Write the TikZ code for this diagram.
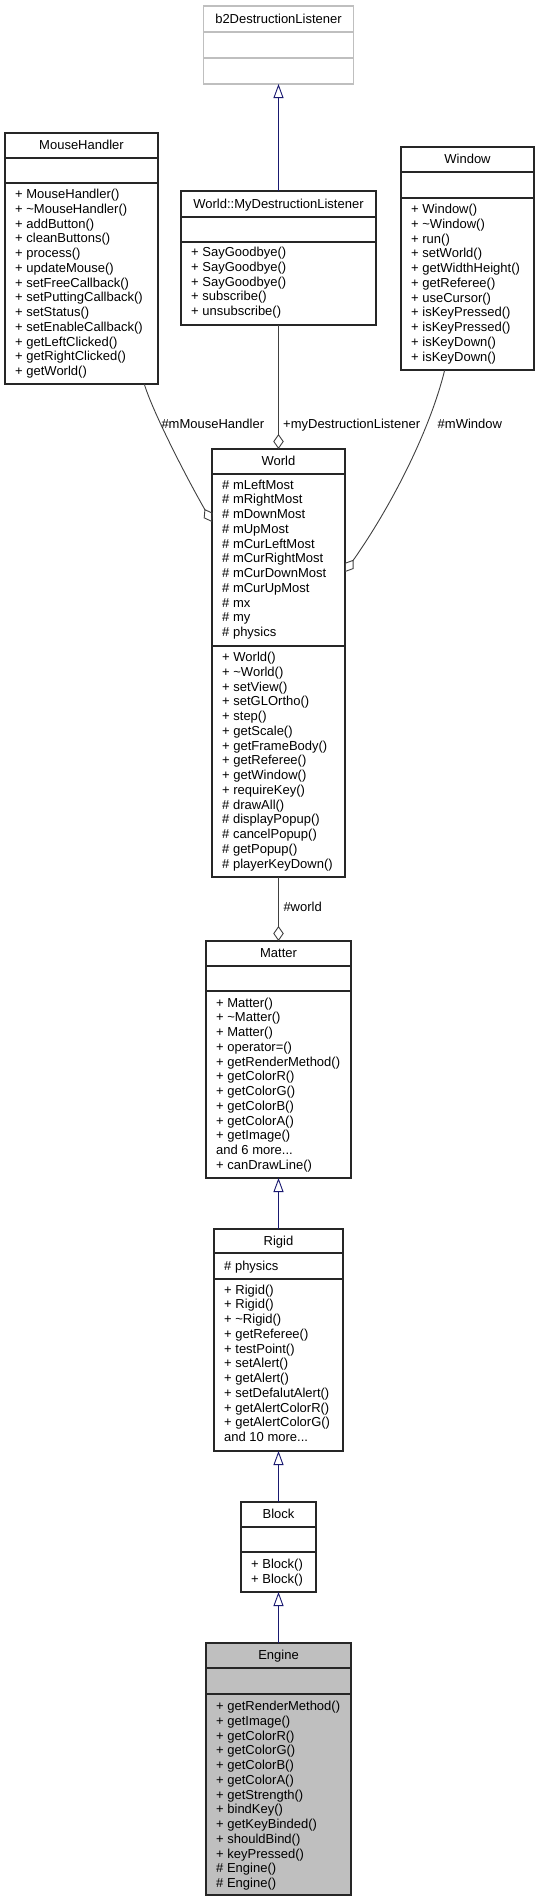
\documentclass[tikz,border=0pt]{standalone}
\usepackage{fontspec}
\setmainfont{Liberation Sans}
\usetikzlibrary{arrows.meta}
\definecolor{edgeblue}{HTML}{191970}
\definecolor{edgegray}{HTML}{404040}

\begin{document}
\begin{tikzpicture}[x=1pt,y=-1pt,
  cls/.style={draw=black!85,line width=1.2pt,inner sep=0pt,outer sep=0pt},
  ext/.style={cls,draw=black!25},
  sep/.style={black!85,line width=1.2pt},
  ttl/.style={anchor=base,inner sep=0pt,font=\fontsize{13}{14.75}\selectfont},
  mem/.style={anchor=base west,align=left,inner sep=0pt,font=\fontsize{13}{14.75}\selectfont},
  lbl/.style={anchor=base west,inner sep=0pt,font=\fontsize{13}{14.75}\selectfont},
  inh/.style={draw=edgeblue,line width=0.9pt,-{Triangle[open,length=14pt,width=10pt]}},
  agg/.style={draw=edgegray,line width=0.9pt,-{Diamond[open,length=15pt,width=10.5pt]}}]
  \useasboundingbox (0,0) rectangle (538,1901);

  % b2DestructionListener
  \node[ext,minimum width=150pt,minimum height=78pt] (b2) at (278.5,45) {};
  \node[ttl] (b2-t) at ([yshift=-17pt]b2.north) {b2DestructionListener};
  \draw[sep,black!25] ([yshift=-26pt]b2.north west) -- ([yshift=-26pt]b2.north east);
  \draw[sep,black!25] ([yshift=-52pt]b2.north west) -- ([yshift=-52pt]b2.north east);

  % MouseHandler
  \node[cls,minimum width=153pt,minimum height=251pt] (mouse) at (81.5,258.5) {};
  \node[ttl] (mouse-t) at ([yshift=-16.5pt]mouse.north) {MouseHandler};
  \draw[sep] ([yshift=-25pt]mouse.north west) -- ([yshift=-25pt]mouse.north east);
  \draw[sep] ([yshift=-50pt]mouse.north west) -- ([yshift=-50pt]mouse.north east);
  % last baseline of each list is the anchor
  \node[mem] (mouse-m) at ([xshift=10pt,yshift=-242.5pt]mouse.north west)
    {+ MouseHandler()\\+ \textasciitilde MouseHandler()\\+ addButton()\\+ cleanButtons()\\
     + process()\\+ updateMouse()\\+ setFreeCallback()\\+ setPuttingCallback()\\
     + setStatus()\\+ setEnableCallback()\\+ getLeftClicked()\\+ getRightClicked()\\
     + getWorld()};

  % World::MyDestructionListener
  \node[cls,minimum width=195pt,minimum height=134pt] (mdl) at (278.5,258) {};
  \node[ttl] (mdl-t) at ([yshift=-17pt]mdl.north) {World::MyDestructionListener};
  \draw[sep] ([yshift=-26pt]mdl.north west) -- ([yshift=-26pt]mdl.north east);
  \draw[sep] ([yshift=-51pt]mdl.north west) -- ([yshift=-51pt]mdl.north east);
  \node[mem] (mdl-m) at ([xshift=10pt,yshift=-124.5pt]mdl.north west)
    {+ SayGoodbye()\\+ SayGoodbye()\\+ SayGoodbye()\\+ subscribe()\\+ unsubscribe()};

  % Window
  \node[cls,minimum width=133pt,minimum height=223pt] (window) at (467.5,258.5) {};
  \node[ttl] (window-t) at ([yshift=-16.5pt]window.north) {Window};
  \draw[sep] ([yshift=-25pt]window.north west) -- ([yshift=-25pt]window.north east);
  \draw[sep] ([yshift=-51pt]window.north west) -- ([yshift=-51pt]window.north east);
  \node[mem] (window-m) at ([xshift=10pt,yshift=-214pt]window.north west)
    {+ Window()\\+ \textasciitilde Window()\\+ run()\\+ setWorld()\\+ getWidthHeight()\\
     + getReferee()\\+ useCursor()\\+ isKeyPressed()\\+ isKeyPressed()\\+ isKeyDown()\\
     + isKeyDown()};

  % World
  \node[cls,minimum width=133pt,minimum height=428pt] (world) at (278.5,663) {};
  \node[ttl] (world-t) at ([yshift=-16.5pt]world.north) {World};
  \draw[sep] ([yshift=-25pt]world.north west) -- ([yshift=-25pt]world.north east);
  \draw[sep] ([yshift=-197pt]world.north west) -- ([yshift=-197pt]world.north east);
  \node[mem] (world-a) at ([xshift=10pt,yshift=-187.5pt]world.north west)
    {\# mLeftMost\\\# mRightMost\\\# mDownMost\\\# mUpMost\\\# mCurLeftMost\\
     \# mCurRightMost\\\# mCurDownMost\\\# mCurUpMost\\\# mx\\\# my\\\# physics};
  \node[mem] (world-m) at ([xshift=10pt,yshift=-419pt]world.north west)
    {+ World()\\+ \textasciitilde World()\\+ setView()\\+ setGLOrtho()\\+ step()\\
     + getScale()\\+ getFrameBody()\\+ getReferee()\\+ getWindow()\\+ requireKey()\\
     \# drawAll()\\\# displayPopup()\\\# cancelPopup()\\\# getPopup()\\\# playerKeyDown()};

  % Matter
  \node[cls,minimum width=145pt,minimum height=237pt] (matter) at (278.5,1059.5) {};
  \node[ttl] (matter-t) at ([yshift=-16.5pt]matter.north) {Matter};
  \draw[sep] ([yshift=-25pt]matter.north west) -- ([yshift=-25pt]matter.north east);
  \draw[sep] ([yshift=-50pt]matter.north west) -- ([yshift=-50pt]matter.north east);
  \node[mem] (matter-m) at ([xshift=10pt,yshift=-228.25pt]matter.north west)
    {+ Matter()\\+ \textasciitilde Matter()\\+ Matter()\\+ operator=()\\
     + getRenderMethod()\\+ getColorR()\\+ getColorG()\\+ getColorB()\\+ getColorA()\\
     + getImage()\\and 6 more...\\+ canDrawLine()};

  % Rigid
  \node[cls,minimum width=129pt,minimum height=222pt] (rigid) at (278.5,1340) {};
  \node[ttl] (rigid-t) at ([yshift=-16.5pt]rigid.north) {Rigid};
  \draw[sep] ([yshift=-24pt]rigid.north west) -- ([yshift=-24pt]rigid.north east);
  \draw[sep] ([yshift=-50pt]rigid.north west) -- ([yshift=-50pt]rigid.north east);
  \node[mem] (rigid-a) at ([xshift=10pt,yshift=-41pt]rigid.north west) {\# physics};
  \node[mem] (rigid-m) at ([xshift=10pt,yshift=-212.5pt]rigid.north west)
    {+ Rigid()\\+ Rigid()\\+ \textasciitilde Rigid()\\+ getReferee()\\+ testPoint()\\
     + setAlert()\\+ getAlert()\\+ setDefalutAlert()\\+ getAlertColorR()\\
     + getAlertColorG()\\and 10 more...};

  % Block
  \node[cls,minimum width=75pt,minimum height=90pt] (block) at (278.5,1547) {};
  \node[ttl] (block-t) at ([yshift=-16.5pt]block.north) {Block};
  \draw[sep] ([yshift=-25pt]block.north west) -- ([yshift=-25pt]block.north east);
  \draw[sep] ([yshift=-50pt]block.north west) -- ([yshift=-50pt]block.north east);
  \node[mem] (block-m) at ([xshift=10pt,yshift=-81.25pt]block.north west)
    {+ Block()\\+ Block()};

  % Engine
  \node[cls,fill=black!25,minimum width=145pt,minimum height=252pt] (engine) at (278.5,1769) {};
  \node[ttl] (engine-t) at ([yshift=-16.5pt]engine.north) {Engine};
  \draw[sep] ([yshift=-25pt]engine.north west) -- ([yshift=-25pt]engine.north east);
  \draw[sep] ([yshift=-51pt]engine.north west) -- ([yshift=-51pt]engine.north east);
  \node[mem] (engine-m) at ([xshift=10pt,yshift=-244.5pt]engine.north west)
    {+ getRenderMethod()\\+ getImage()\\+ getColorR()\\+ getColorG()\\+ getColorB()\\
     + getColorA()\\+ getStrength()\\+ bindKey()\\+ getKeyBinded()\\+ shouldBind()\\
     + keyPressed()\\\# Engine()\\\# Engine()};

  % connectors
  \draw[inh] (mdl) -- (b2);
  \draw[agg] (mdl) -- (world);
  \draw[agg] ([xshift=62.8pt]mouse.south) .. controls (152,410) and (185,475) .. ([yshift=-73pt]world.north west);
  \draw[agg] ([xshift=-22.8pt]window.south) .. controls (430,430) and (392,505) .. ([yshift=-123pt]world.north east);
  \draw[agg] (world) -- (matter);
  \draw[inh] (rigid) -- (matter);
  \draw[inh] (block) -- (rigid);
  \draw[inh] (engine) -- (block);

  \node[lbl] (mouse-l) at (161.3,428.5) {\#mMouseHandler};
  \node[lbl] (mdl-l) at (283,428.5) {+myDestructionListener};
  \node[lbl] (window-l) at (437.5,428.5) {\#mWindow};
  \node[lbl] (world-l) at (283.3,911) {\#world};
\end{tikzpicture}
\end{document}
